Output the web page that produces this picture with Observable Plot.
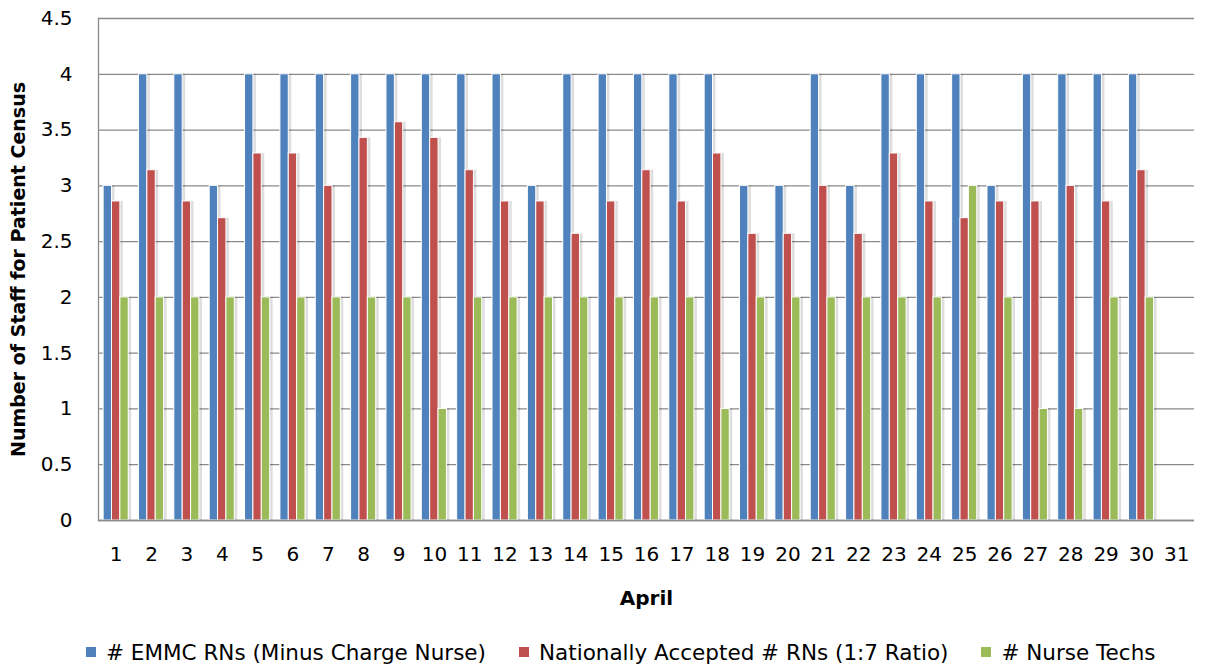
<!DOCTYPE html>
<html>
<head>
<meta charset="utf-8">
<script src="https://cdn.jsdelivr.net/npm/d3@7"></script>
<script src="https://cdn.jsdelivr.net/npm/@observablehq/plot@0.6"></script>
<style>
  body { margin: 0; background: #fff; font-family: "DejaVu Sans", sans-serif; }
  #legend { display: flex; align-items: center; height: 54px; padding-left: 86px; font-size: 21.5px; color: #000; }
  .item { display: flex; align-items: center; margin-right: 33px; }
  .sw { width: 10px; height: 10px; margin-right: 10px; }
</style>
</head>
<body>
<div id="chart"></div>
<div id="legend"></div>
<script>
const days = ["1","2","3","4","5","6","7","8","9","10","11","12","13","14","15","16","17","18","19","20","21","22","23","24","25","26","27","28","29","30","31"];
const seriesNames = ["# EMMC RNs (Minus Charge Nurse)", "Nationally Accepted # RNs (1:7 Ratio)", "# Nurse Techs"];
const seriesColors = ["#4F81BD", "#C0504D", "#9BBB59"];
const emmcRNs  = [3,4,4,3,4,4,4,4,4,4,4,4,3,4,4,4,4,4,3,3,4,3,4,4,4,3,4,4,4,4,null];
const nationalRNs = [2.86,3.14,2.86,2.71,3.29,3.29,3.0,3.43,3.57,3.43,3.14,2.86,2.86,2.57,2.86,3.14,2.86,3.29,2.57,2.57,3.0,2.57,3.29,2.86,2.71,2.86,2.86,3.0,2.86,3.14,null];
const nurseTechs = [2,2,2,2,2,2,2,2,2,1,2,2,2,2,2,2,2,1,2,2,2,2,2,2,3,2,1,1,2,2,null];
const yTicks = [0,0.5,1,1.5,2,2.5,3,3.5,4,4.5];

const W = 1206, H = 625, mL = 98, mR = 12, mT = 18, mB = 105;
const pInner = 0.29, pOuter = 0.145;
const step = (W - mL - mR) / (days.length - pInner + 2 * pOuter);
const bw = step * (1 - pInner);
const sub = bw / 3;

const allSeries = [emmcRNs, nationalRNs, nurseTechs];
const rows = allSeries.map((vals, i) => days.map((d, j) => ({day: d, value: vals[j], series: i})).filter(r => r.value != null));

const font = "'DejaVu Sans', sans-serif";
const marks = [
  Plot.gridY(yTicks, {stroke: "#8a8a8a", strokeOpacity: 1, strokeWidth: 1.3}),
  Plot.frame({anchor: "left", stroke: "#8a8a8a", strokeWidth: 1.3}),
];
rows.forEach((data, i) => {
  marks.push(Plot.barY(data, {x: "day", y: "value", fill: "#000", fillOpacity: 0.13, dx: 3,
    insetLeft: i * sub, insetRight: (2 - i) * sub}));
});
rows.forEach((data, i) => {
  marks.push(Plot.barY(data, {x: "day", y: "value", fill: seriesColors[i], stroke: "#fff", strokeWidth: 1,
    insetLeft: i * sub, insetRight: (2 - i) * sub}));
});
marks.push(
  Plot.ruleY([0], {stroke: "#8a8a8a", strokeWidth: 1.5}),
  Plot.axisY(yTicks, {tickSize: 0, tickPadding: 26, fontSize: 20, label: null, tickFormat: d => String(d)}),
  Plot.axisX({tickSize: 0, tickPadding: 26, fontSize: 20, label: null}),
  Plot.text(["April"], {frameAnchor: "bottom", dy: 78, lineAnchor: "middle", fontWeight: "bold", fontSize: 20}),
  Plot.text(["Number of Staff for Patient Census"], {frameAnchor: "left", dx: -80, rotate: -90, textAnchor: "middle", lineAnchor: "middle", fontWeight: "bold", fontSize: 19})
);

const chart = Plot.plot({
  width: W, height: H,
  marginLeft: mL, marginRight: mR, marginTop: mT, marginBottom: mB,
  style: {fontFamily: font, color: "#000", background: "#fff"},
  x: {type: "band", domain: days, paddingInner: pInner, paddingOuter: pOuter, round: false},
  y: {domain: [0, 4.5]},
  marks
});
document.getElementById("chart").appendChild(chart);

const legend = document.getElementById("legend");
seriesNames.forEach((name, i) => {
  const it = document.createElement("div");
  it.className = "item";
  const sw = document.createElement("div");
  sw.className = "sw";
  sw.style.background = seriesColors[i];
  const tx = document.createElement("span");
  tx.textContent = name;
  it.appendChild(sw); it.appendChild(tx);
  legend.appendChild(it);
});
</script>
</body>
</html>
